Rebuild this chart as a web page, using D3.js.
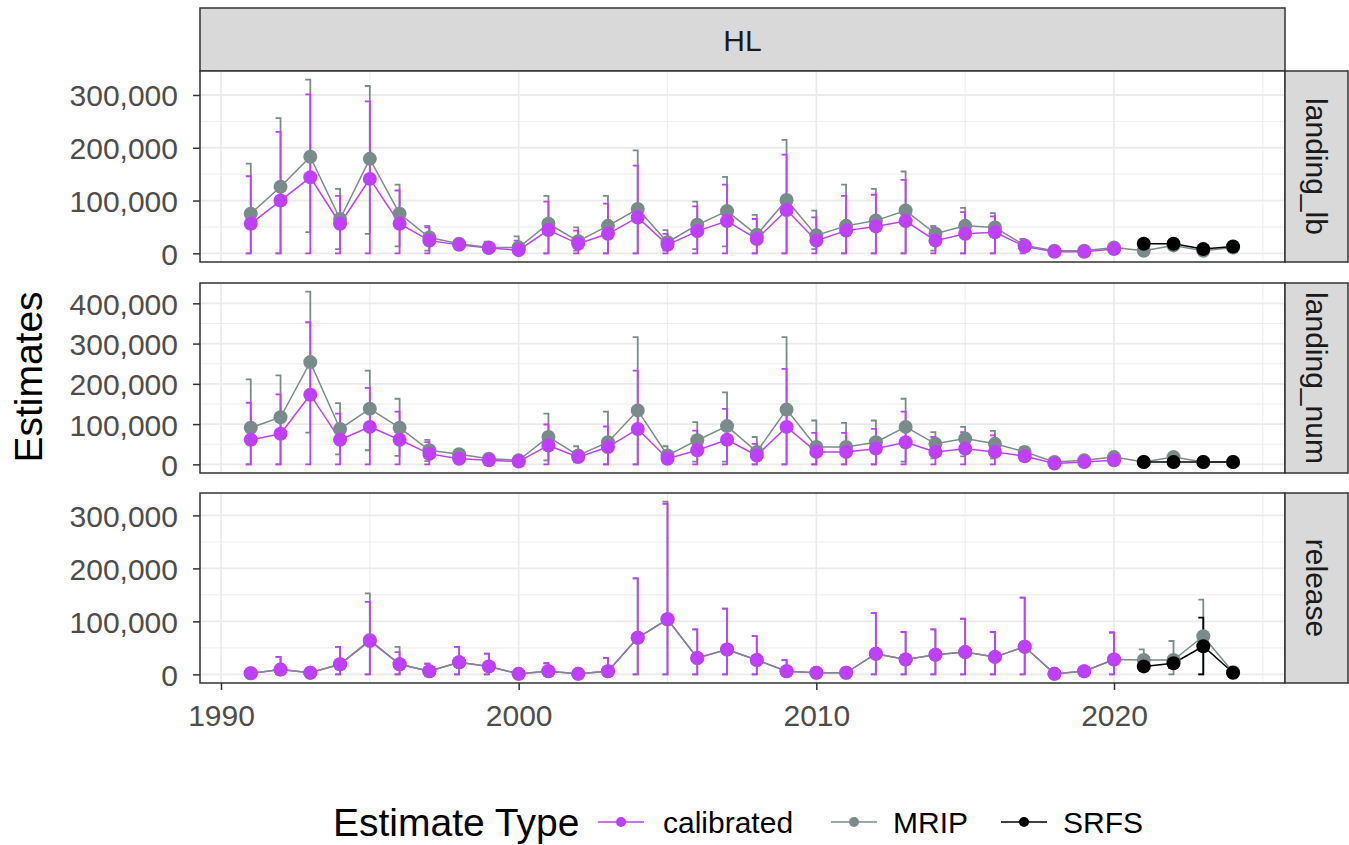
<!DOCTYPE html>
<html><head><meta charset="utf-8">
<script src="https://cdn.jsdelivr.net/npm/d3@7"></script>
<style>
body{margin:0;background:#fff}
text{font-family:"Liberation Sans",Arial,sans-serif}
</style>
</head><body>
<svg id="c" width="1349" height="845"></svg>
<script>
// ---------- data (values in thousands) ----------
const years = [1991,1992,1993,1994,1995,1996,1997,1998,1999,2000,2001,2002,2003,2004,2005,2006,2007,2008,2009,2010,2011,2012,2013,2014,2015,2016,2017,2018,2019,2020,2021,2022,2023,2024];
const calYears = years.slice(0, 30);
const srfsYears = [2021,2022,2023,2024];
const xTicks = [1990,2000,2010,2020];
const xMinor = [1995,2005,2015,2025];
const seriesNames = ["calibrated","MRIP","SRFS"];
const panelNames = ["landing_lb","landing_num","release"];
const stripTop = "HL";

// landing_lb
const lbCal   = [56,100,144,56,141,56,24,16,10,6,44,18,37,68,16,42,61,27,82,24,43,51,61,24,37,40,13,3,3,8];
const lbCalHi = [146,230,301,109,288,119,49,23,20,24,98,43,94,166,37,89,130,65,187,68,109,111,139,49,78,70,27,null,null,null];
const lbCalLo = [0,0,0,0,0,0,0,9,2,0,0,0,0,0,0,0,0,0,0,0,0,0,0,0,0,0,0,null,null,null];
const lbMrip   = [75,126,183,65,179,75,30,18,11,11,56,23,52,84,21,54,80,35,101,34,52,62,81,37,52,49,15,5,5,11,5,15,5,11];
const lbMripHi = [170,256,329,122,317,130,52,25,22,32,109,49,109,195,44,98,145,73,215,81,130,122,155,52,86,76,27,null,null,null,null,null,null,null];
const lbMripLo = [0,0,40,8,37,13,5,9,2,0,0,5,0,0,5,8,13,0,0,8,0,0,0,5,0,0,5,null,null,null,null,null,null,null];
const lbSrfs   = [18,18,8,13];
const lbSrfsHi = [null,null,null,null];
const lbSrfsLo = [null,null,null,null];

// landing_num
const numCal   = [61,76,173,61,93,61,26,14,10,7,47,18,43,88,14,35,61,22,93,31,31,39,55,31,39,31,20,2,6,10];
const numCalHi = [153,174,353,126,190,131,55,22,14,12,99,30,94,233,22,84,138,51,237,78,78,88,131,68,80,72,30,null,null,null];
const numCalLo = [0,0,0,0,0,0,0,8,5,3,0,8,0,0,7,0,0,0,0,0,0,0,0,0,0,0,10,null,null,null];
const numMrip   = [91,117,254,88,138,91,35,25,14,10,68,22,55,134,22,60,95,31,136,43,43,55,93,51,64,51,31,6,10,18,6,18,6,6];
const numMripHi = [211,221,429,152,233,163,61,35,20,14,126,45,131,316,45,105,179,68,316,109,103,109,163,80,93,83,43,null,null,null,null,null,null,null];
const numMripLo = [0,0,79,25,35,21,8,15,8,6,10,5,0,0,5,7,7,0,0,0,0,0,7,15,20,15,18,null,null,null,null,null,null,null];
const numSrfs   = [6,6,6,6];
const numSrfsHi = [null,null,null,null];
const numSrfsLo = [null,null,null,null];

// release
const relCal   = [2,9,3,19,63,19,6,23,15,1,6,1,6,69,104,31,47,27,6,3,3,39,28,37,42,33,52,1,6,28];
const relCalHi = [null,33,null,52,137,42,20,52,39,null,21,null,31,181,322,85,124,72,27,null,null,116,80,85,105,80,145,null,null,79];
const relCalLo = [null,0,null,0,0,0,0,0,0,null,0,null,0,0,0,0,0,0,0,null,null,0,0,0,0,0,0,null,null,0];
const relMrip   = [2,9,3,19,65,19,6,23,15,1,6,1,6,69,104,31,47,27,6,3,3,39,28,37,42,33,52,1,6,28,27,27,72,4];
const relMripHi = [null,33,null,52,153,52,20,52,39,null,21,null,31,181,326,85,124,72,27,null,null,116,80,85,105,80,145,null,null,79,47,63,141,null];
const relMripLo = [null,0,null,0,0,0,0,0,0,null,0,null,0,0,0,0,0,0,0,null,null,0,0,0,0,0,0,null,null,0,10,0,0,null];
const relSrfs   = [15,21,53,3];
const relSrfsHi = [22,30,107,null];
const relSrfsLo = [8,12,0,null];

// ---------- build ----------
const colors = {calibrated:"#BF3EFF", MRIP:"#7A8B8B", SRFS:"#000000"};
const K = 1000;
function mk(yrs, v, lo, hi){
  return yrs.map((y,i)=>({year:y, v:v[i]*K, lo:lo[i]==null?null:lo[i]*K, hi:hi[i]==null?null:hi[i]*K}));
}
const panels = [
  {name:panelNames[0], top:71, bottom:262, s:{calibrated:mk(calYears,lbCal,lbCalLo,lbCalHi), MRIP:mk(years,lbMrip,lbMripLo,lbMripHi), SRFS:mk(srfsYears,lbSrfs,lbSrfsLo,lbSrfsHi)}},
  {name:panelNames[1], top:283, bottom:473, s:{calibrated:mk(calYears,numCal,numCalLo,numCalHi), MRIP:mk(years,numMrip,numMripLo,numMripHi), SRFS:mk(srfsYears,numSrfs,numSrfsLo,numSrfsHi)}},
  {name:panelNames[2], top:493, bottom:683, s:{calibrated:mk(calYears,relCal,relCalLo,relCalHi), MRIP:mk(years,relMrip,relMripLo,relMripHi), SRFS:mk(srfsYears,relSrfs,relSrfsLo,relSrfsHi)}}
];

const svg = d3.select("#c");
const L = 200, R = 1285;
const x = d3.scaleLinear().domain([1990,2020]).range([221,1114]);
const fmt = d3.format(",");
const gridCol = "#EBEBEB", borderCol = "#333333";

// top strip
svg.append("rect").attr("x",L).attr("y",8).attr("width",R-L).attr("height",63)
  .attr("fill","#D9D9D9").attr("stroke",borderCol).attr("stroke-width",1.5);
svg.append("text").attr("x",(L+R)/2).attr("y",51).attr("text-anchor","middle")
  .attr("font-size",30).attr("fill","#1A1A1A").text(stripTop);

panels.forEach(p=>{
  const all = [];
  seriesNames.forEach(n=>p.s[n].forEach(d=>{all.push(d.v); if(d.hi!=null) all.push(d.hi);}));
  const mx = d3.max(all);
  const y = d3.scaleLinear().domain([-0.05*mx, 1.05*mx]).range([p.bottom, p.top]);
  const major = d3.range(0, 1.05*mx, 100000);
  const minor = d3.range(50000, 1.05*mx, 100000);
  const g = svg.append("g");
  g.append("rect").attr("x",L).attr("y",p.top).attr("width",R-L).attr("height",p.bottom-p.top).attr("fill","#fff");
  // grid
  g.selectAll(".ymn").data(minor).join("line").attr("x1",L).attr("x2",R)
    .attr("y1",d=>y(d)).attr("y2",d=>y(d)).attr("stroke",gridCol).attr("stroke-width",0.9);
  g.selectAll(".xmn").data(xMinor).join("line").attr("y1",p.top).attr("y2",p.bottom)
    .attr("x1",d=>x(d)).attr("x2",d=>x(d)).attr("stroke",gridCol).attr("stroke-width",0.9);
  g.selectAll(".ymj").data(major).join("line").attr("x1",L).attr("x2",R)
    .attr("y1",d=>y(d)).attr("y2",d=>y(d)).attr("stroke",gridCol).attr("stroke-width",1.8);
  g.selectAll(".xmj").data(xTicks).join("line").attr("y1",p.top).attr("y2",p.bottom)
    .attr("x1",d=>x(d)).attr("x2",d=>x(d)).attr("stroke",gridCol).attr("stroke-width",1.8);

  // error bars
  ["MRIP","calibrated","SRFS"].forEach(n=>{
    const eb = p.s[n].filter(d=>d.hi!=null);
    const eg = g.append("g").attr("stroke",colors[n]).attr("stroke-width",1.8).attr("fill","none");
    eg.selectAll("path").data(eb).join("path")
      .attr("d",d=>{const cx=x(d.year), a=y(d.hi), b=y(d.lo);
        return `M${cx-5},${a}H${cx}V${b}H${cx-5}`;});
  });
  // lines
  const line = d3.line().x(d=>x(d.year)).y(d=>y(d.v));
  ["calibrated","MRIP","SRFS"].forEach(n=>{
    g.append("path").datum(p.s[n]).attr("d",line).attr("fill","none")
      .attr("stroke",colors[n]).attr("stroke-width",1.5);
  });
  // points
  ["MRIP","calibrated","SRFS"].forEach(n=>{
    g.append("g").selectAll("circle").data(p.s[n]).join("circle")
      .attr("cx",d=>x(d.year)).attr("cy",d=>y(d.v)).attr("r",7).attr("fill",colors[n]);
  });
  // border
  g.append("rect").attr("x",L).attr("y",p.top).attr("width",R-L).attr("height",p.bottom-p.top)
    .attr("fill","none").attr("stroke",borderCol).attr("stroke-width",1.5);

  // y axis
  const ax = g.append("g").attr("transform",`translate(${L},0)`)
    .call(d3.axisLeft(y).tickValues(major).tickFormat(fmt).tickSize(7));
  ax.select(".domain").remove();
  ax.selectAll(".tick line").attr("stroke",borderCol).attr("stroke-width",1.5);
  ax.selectAll(".tick text").attr("x",-22).attr("dy",null).attr("y",11)
    .attr("font-size",30).attr("fill","#4D4D4D").attr("font-family",'"Liberation Sans",Arial,sans-serif');

  // right strip
  g.append("rect").attr("x",R).attr("y",p.top).attr("width",63).attr("height",p.bottom-p.top)
    .attr("fill","#D9D9D9").attr("stroke",borderCol).attr("stroke-width",1.5);
  g.append("text").attr("transform",`translate(1306,${(p.top+p.bottom)/2}) rotate(90)`)
    .attr("text-anchor","middle").attr("font-size",30).attr("fill","#1A1A1A").text(p.name);
});

// x axis
const xa = svg.append("g").attr("transform","translate(0,683)")
  .call(d3.axisBottom(x).tickValues(xTicks).tickFormat(d3.format("d")).tickSize(7));
xa.select(".domain").remove();
xa.selectAll(".tick line").attr("stroke",borderCol).attr("stroke-width",1.5);
xa.selectAll(".tick text").attr("dy",null).attr("y",43).attr("font-size",30)
  .attr("fill","#4D4D4D").attr("font-family",'"Liberation Sans",Arial,sans-serif');

// y title
svg.append("text").attr("transform","translate(42,377) rotate(-90)").attr("text-anchor","middle")
  .attr("font-size",39).attr("fill","#000").text("Estimates");

// legend
svg.append("text").attr("x",333).attr("y",836).attr("font-size",39).attr("fill","#000").text("Estimate Type");
const legKeys = [{n:"calibrated", kx:598, tx:663},{n:"MRIP", kx:831, tx:893},{n:"SRFS", kx:1001, tx:1063}];
legKeys.forEach(k=>{
  svg.append("line").attr("x1",k.kx).attr("x2",k.kx+46).attr("y1",822).attr("y2",822)
    .attr("stroke",colors[k.n]).attr("stroke-width",1.5);
  svg.append("circle").attr("cx",k.kx+23).attr("cy",822).attr("r",5).attr("fill",colors[k.n]);
  svg.append("text").attr("x",k.tx).attr("y",833).attr("font-size",30).attr("fill","#000").text(k.n);
});
</script>
</body></html>
